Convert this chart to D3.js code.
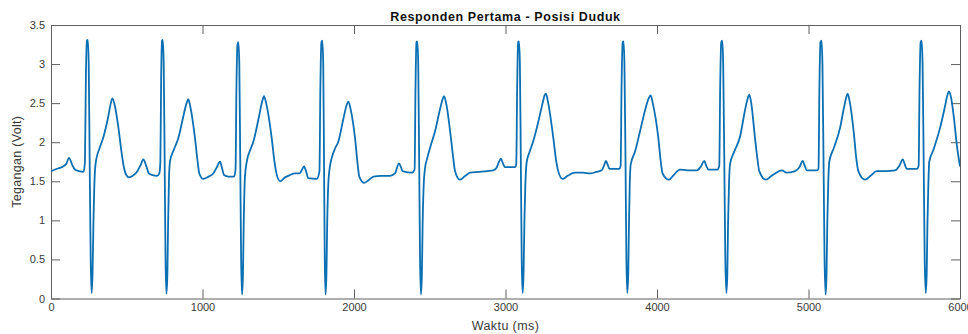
<!DOCTYPE html>
<html>
<head>
<meta charset="utf-8">
<script src="https://cdn.jsdelivr.net/npm/d3@7"></script>
<style>
  body { margin: 0; background: #fff; }
  svg { display: block; font-family: 'Liberation Sans', Arial, sans-serif; }
</style>
</head>
<body>
<svg id="chart" width="968" height="334"></svg>
<script>
// waktu (ms), one line per beat
const timeMs = [
  0, 40, 80, 100, 119, 140, 158, 185, 215, 224, 230, 237, 243, 249, 255, 262, 268, 274, 280, 288, 297, 320, 345, 375, 395, 405, 420, 444, 465, 482, 497, 515, 540, 570, 590, 610, 628, 647, 670, 700, 715,
  722, 727, 733, 738, 744, 750, 756, 762, 768, 773, 779, 786, 810, 840, 870, 895, 906, 920, 950, 968, 979, 1005, 1040, 1071, 1095, 1115, 1130, 1142, 1170, 1208,
  1218, 1224, 1231, 1237, 1243, 1249, 1255, 1261, 1267, 1272, 1280, 1292, 1315, 1336, 1370, 1395, 1406, 1420, 1457, 1475, 1485, 1512, 1545, 1578, 1610, 1640, 1655, 1670, 1685, 1698, 1754,
  1772, 1778, 1785, 1791, 1797, 1802, 1807, 1812, 1818, 1823, 1830, 1837, 1853, 1875, 1897, 1930, 1952, 1963, 1978, 2007, 2025, 2035, 2068, 2100, 2128, 2180, 2238, 2270, 2297, 2310, 2321, 2381,
  2400, 2406, 2412, 2418, 2424, 2430, 2436, 2442, 2448, 2453, 2460, 2469, 2484, 2510, 2535, 2565, 2585, 2594, 2608, 2640, 2655, 2667, 2700, 2735, 2766, 2820, 2880, 2919, 2940, 2955, 2970, 2985, 2997, 3063,
  3071, 3077, 3083, 3089, 3095, 3101, 3107, 3113, 3119, 3125, 3131, 3140, 3160, 3184, 3215, 3245, 3258, 3267, 3282, 3316, 3333, 3348, 3377, 3410, 3459, 3510, 3558, 3600, 3635, 3650, 3663, 3675, 3686, 3752,
  3760, 3766, 3773, 3779, 3785, 3792, 3798, 3804, 3810, 3815, 3820, 3826, 3855, 3888, 3920, 3945, 3958, 3972, 4009, 4025, 4037, 4079, 4110, 4152, 4200, 4262, 4290, 4312, 4325, 4339, 4398,
  4411, 4417, 4424, 4431, 4437, 4444, 4451, 4458, 4464, 4469, 4475, 4482, 4510, 4548, 4580, 4600, 4609, 4622, 4647, 4662, 4675, 4719, 4750, 4779, 4823, 4856, 4911, 4940, 4962, 4975, 4988, 5058,
  5066, 5072, 5079, 5086, 5092, 5099, 5106, 5113, 5119, 5124, 5130, 5137, 5168, 5208, 5235, 5250, 5259, 5272, 5300, 5315, 5329, 5373, 5410, 5450, 5510, 5571, 5600, 5622, 5635, 5648, 5718,
  5727, 5733, 5740, 5747, 5753, 5760, 5767, 5774, 5780, 5785, 5791, 5797, 5824, 5868, 5900, 5918, 5927, 5940, 5960, 5980, 6000,
];

// tegangan (Volt), same grouping as timeMs
const voltage = [
  1.63, 1.66, 1.69, 1.72, 1.80, 1.71, 1.65, 1.63, 1.62, 1.75, 2.80, 3.30, 3.31, 3.00, 1.80, 0.50, 0.07, 0.30, 0.95, 1.55, 1.76, 1.92, 2.06, 2.30, 2.50, 2.56, 2.48, 2.20, 1.88, 1.67, 1.58, 1.55, 1.57, 1.63, 1.70, 1.78, 1.70, 1.60, 1.58, 1.57, 1.60,
  1.75, 2.80, 3.30, 3.31, 3.00, 1.80, 0.50, 0.06, 0.30, 0.95, 1.55, 1.76, 1.90, 2.05, 2.30, 2.50, 2.55, 2.45, 2.06, 1.75, 1.60, 1.53, 1.56, 1.60, 1.68, 1.75, 1.66, 1.58, 1.56, 1.56,
  1.65, 2.70, 3.25, 3.28, 3.00, 1.80, 0.50, 0.05, 0.30, 0.95, 1.55, 1.75, 1.90, 2.01, 2.30, 2.53, 2.59, 2.50, 2.05, 1.75, 1.63, 1.50, 1.55, 1.58, 1.60, 1.60, 1.64, 1.69, 1.62, 1.54, 1.53,
  1.63, 2.70, 3.28, 3.30, 3.00, 1.80, 0.50, 0.05, 0.30, 0.95, 1.45, 1.63, 1.80, 1.92, 2.01, 2.30, 2.48, 2.52, 2.42, 2.05, 1.70, 1.56, 1.48, 1.52, 1.56, 1.57, 1.57, 1.60, 1.73, 1.68, 1.63, 1.61,
  1.65, 2.70, 3.28, 3.29, 3.00, 1.80, 0.50, 0.05, 0.30, 0.95, 1.45, 1.67, 1.80, 1.98, 2.14, 2.40, 2.55, 2.59, 2.50, 2.05, 1.80, 1.63, 1.52, 1.57, 1.61, 1.62, 1.63, 1.64, 1.67, 1.74, 1.79, 1.72, 1.68, 1.68,
  1.72, 2.70, 3.28, 3.29, 3.00, 1.80, 0.50, 0.07, 0.30, 1.00, 1.45, 1.75, 1.88, 2.02, 2.25, 2.50, 2.60, 2.62, 2.50, 2.05, 1.78, 1.63, 1.53, 1.57, 1.61, 1.61, 1.60, 1.62, 1.64, 1.70, 1.76, 1.71, 1.66, 1.66,
  1.70, 2.70, 3.28, 3.29, 3.00, 1.80, 0.50, 0.07, 0.30, 0.95, 1.45, 1.71, 1.88, 2.14, 2.40, 2.56, 2.60, 2.50, 2.05, 1.75, 1.60, 1.52, 1.58, 1.65, 1.64, 1.64, 1.69, 1.76, 1.70, 1.65, 1.65,
  1.70, 2.70, 3.28, 3.30, 3.00, 1.80, 0.50, 0.07, 0.30, 0.95, 1.45, 1.72, 1.88, 2.07, 2.40, 2.57, 2.61, 2.50, 2.05, 1.80, 1.63, 1.52, 1.56, 1.60, 1.64, 1.61, 1.63, 1.68, 1.76, 1.70, 1.64, 1.64,
  1.66, 2.70, 3.28, 3.30, 3.00, 1.80, 0.50, 0.05, 0.30, 0.95, 1.45, 1.75, 1.93, 2.18, 2.45, 2.58, 2.62, 2.52, 2.10, 1.80, 1.63, 1.52, 1.57, 1.63, 1.63, 1.64, 1.70, 1.78, 1.72, 1.66, 1.66,
  1.70, 2.70, 3.28, 3.30, 3.00, 1.80, 0.50, 0.07, 0.30, 0.95, 1.45, 1.75, 1.90, 2.18, 2.45, 2.61, 2.65, 2.58, 2.31, 1.95, 1.69,
];

const xTicks = [0, 1000, 2000, 3000, 4000, 5000, 6000];
const yTicks = [0, 0.5, 1, 1.5, 2, 2.5, 3, 3.5];

const width = 968;
const height = 334;
const margin = { top: 25, right: 8, bottom: 35.5, left: 51 };
const innerW = width - margin.left - margin.right;
const innerH = height - margin.top - margin.bottom;

const axisColor = '#5e5e5e';
const textColor = '#3a3a3a';
const lineColor = '#0a6fb3';
const tickLen = 9;

const svg = d3.select('#chart');

const x = d3.scaleLinear().domain([0, 6000]).range([0, innerW]);
const y = d3.scaleLinear().domain([0, 3.5]).range([innerH, 0]);

const g = svg
  .append('g')
  .attr('transform', `translate(${margin.left},${margin.top})`);

// clip so the trace stays inside the box
g.append('clipPath')
  .attr('id', 'plot-clip')
  .append('rect')
  .attr('x', 0)
  .attr('y', -2)
  .attr('width', innerW)
  .attr('height', innerH + 4);

const styleAxis = (sel) => {
  sel.selectAll('.domain').attr('stroke', axisColor).attr('stroke-width', 1);
  sel.selectAll('.tick line').attr('stroke', axisColor).attr('stroke-width', 1);
  sel
    .selectAll('.tick text')
    .attr('fill', textColor)
    .attr('font-size', 11)
    .attr('font-family', "'Liberation Sans', Arial, sans-serif");
};

// bottom and left carry the labels, top and right only inner ticks
g.append('g')
  .attr('transform', `translate(0,${innerH})`)
  .call(d3.axisBottom(x).tickValues(xTicks).tickFormat(d3.format('d')).tickSizeInner(-tickLen).tickSizeOuter(0).tickPadding(5))
  .call(styleAxis);

g.append('g')
  .call(d3.axisTop(x).tickValues(xTicks).tickFormat('').tickSizeInner(-tickLen).tickSizeOuter(0))
  .call(styleAxis);

g.append('g')
  .call(d3.axisLeft(y).tickValues(yTicks).tickFormat((d) => String(d)).tickSizeInner(-tickLen).tickSizeOuter(0).tickPadding(6))
  .call(styleAxis);

g.append('g')
  .attr('transform', `translate(${innerW},0)`)
  .call(d3.axisRight(y).tickValues(yTicks).tickFormat('').tickSizeInner(-tickLen).tickSizeOuter(0))
  .call(styleAxis);

const points = timeMs.map((t, i) => ({ t, v: voltage[i] }));

const line = d3
  .line()
  .x((d) => x(d.t))
  .y((d) => y(d.v))
  .curve(d3.curveMonotoneX);

g.append('path')
  .datum(points)
  .attr('clip-path', 'url(#plot-clip)')
  .attr('fill', 'none')
  .attr('stroke', lineColor)
  .attr('stroke-width', 1.8)
  .attr('stroke-linejoin', 'round')
  .attr('d', line);

// title and axis labels
svg
  .append('text')
  .attr('x', margin.left + innerW / 2)
  .attr('y', 20.5)
  .attr('text-anchor', 'middle')
  .attr('font-size', 12.5)
  .attr('font-weight', 'bold')
  .attr('letter-spacing', 0.6)
  .attr('fill', '#111')
  .text('Responden Pertama - Posisi Duduk');

svg
  .append('text')
  .attr('x', margin.left + innerW / 2)
  .attr('y', 330)
  .attr('text-anchor', 'middle')
  .attr('font-size', 12.5)
  .attr('letter-spacing', 0.4)
  .attr('fill', textColor)
  .text('Waktu (ms)');

svg
  .append('text')
  .attr('transform', `translate(21,${margin.top + innerH / 2}) rotate(-90)`)
  .attr('text-anchor', 'middle')
  .attr('font-size', 12.5)
  .attr('letter-spacing', 0.3)
  .attr('fill', textColor)
  .text('Tegangan (Volt)');
</script>
</body>
</html>
